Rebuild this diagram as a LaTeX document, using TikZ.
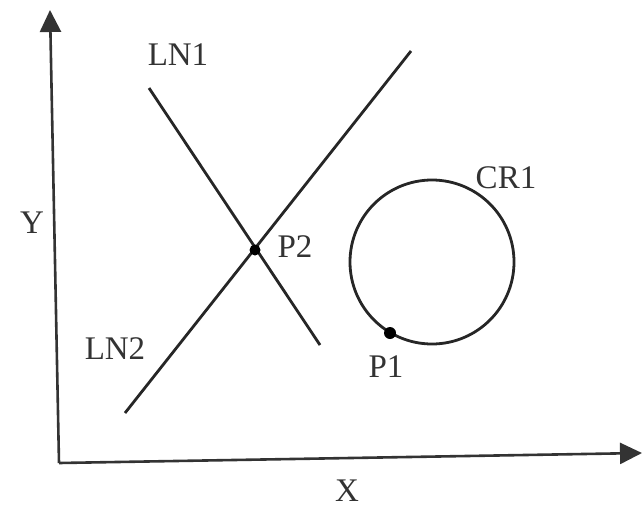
\documentclass[tikz,border=0pt]{standalone}
\usepackage{fontspec}
\setmainfont{Liberation Serif}
\usetikzlibrary{arrows.meta}
\begin{document}
\begin{tikzpicture}[x=1pt,y=-1pt,
  ln/.style={line width=2.8pt,black!85},
  ax/.style={line width=2.6pt,black!80,-{Triangle[length=22pt,width=21pt]}},
  lbl/.style={font=\fontsize{33}{33}\selectfont,text=black!80,inner sep=0pt},
  dot/.style={circle,fill=black,inner sep=0pt,minimum size=#1}]
\useasboundingbox (0,0) rectangle (642,511);
\coordinate (O) at (59,463);
\coordinate (Ytop) at (50,10);
\coordinate (Xend) at (642,453);
\draw[ax] (O) -- (Ytop);
\draw[ax] (O) -- (Xend);
\node[lbl] (Y) at (32,223) {Y};
\node[lbl] (X) at (347,491) {X};
% lines
\coordinate (a1) at (149,88);
\coordinate (a2) at (320,345);
\coordinate (b1) at (125,413);
\coordinate (b2) at (411,51);
\draw[ln] (a1) -- (a2);
\draw[ln] (b1) -- (b2);
\node[lbl] (LN1) at (178,55) {LN1};
\node[lbl] (LN2) at (115,349) {LN2};
\node[dot=11pt] (P2) at (255,250) {};
\node[lbl] (P2l) at (295,247) {P2};
% circle
\coordinate (C) at (432,262);
\draw[ln] (C) circle[radius=82];
\node[lbl] (CR1) at (506,178) {CR1};
\node[dot=12pt] (P1) at (390,333) {};
\node[lbl] (P1l) at (386,367) {P1};
\end{tikzpicture}
\end{document}
